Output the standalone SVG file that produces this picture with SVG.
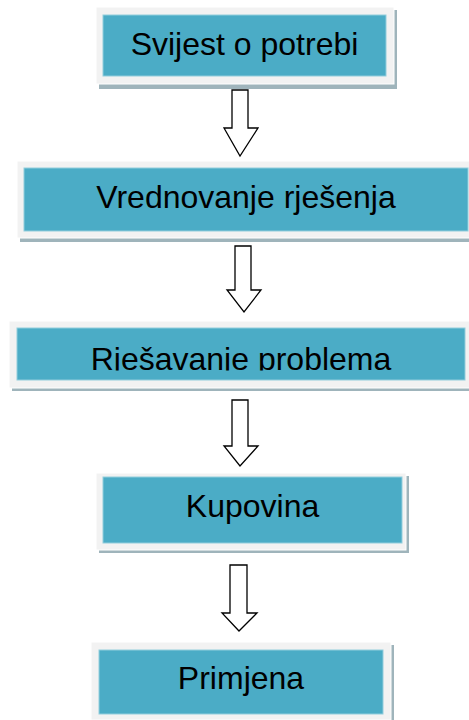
<svg xmlns="http://www.w3.org/2000/svg" width="469" height="720" viewBox="0 0 469 720">
<style>
.shadow{fill:#9fb4bb}
.frame{fill:#f2f2f2;stroke:#ffffff;stroke-width:1}
.box{fill:#4bacc6;stroke:#92cddc;stroke-width:1}
.lbl{font-family:"Liberation Sans",Arial,sans-serif;font-size:32px;fill:#000;text-anchor:middle}
.arr{fill:#ffffff;stroke:#000;stroke-width:1.3;stroke-linejoin:miter}
</style>
<defs>
<clipPath id="c3"><rect x="0" y="321" width="469" height="49.5"/></clipPath>
</defs>
<rect width="469" height="720" fill="#ffffff"/>
<g id="n1">
<rect class="shadow" x="99" y="10" width="298" height="79"/>
<rect class="frame" x="96" y="7" width="298" height="77"/>
<rect class="box" x="103" y="15" width="283" height="61"/>
<text class="lbl" x="244.5" y="55">Svijest o potrebi</text>
</g>
<g id="n2">
<rect class="shadow" x="20" y="164" width="460" height="78"/>
<rect class="frame" x="17" y="161" width="460" height="77"/>
<rect class="box" x="24" y="168" width="444" height="63"/>
<text class="lbl" x="246" y="208">Vrednovanje rješenja</text>
</g>
<g id="n3">
<rect class="shadow" x="12" y="324" width="470" height="67"/>
<rect class="frame" x="9" y="321" width="470" height="67"/>
<rect class="box" x="17" y="328" width="448" height="52"/>
<text class="lbl" x="241" y="370" clip-path="url(#c3)">Rješavanje problema</text>
</g>
<g id="n4">
<rect class="shadow" x="99" y="476" width="310" height="77"/>
<rect class="frame" x="96" y="473" width="310" height="77"/>
<rect class="box" x="103" y="477" width="299" height="66"/>
<text class="lbl" x="252.5" y="517">Kupovina</text>
</g>
<g id="n5">
<rect class="shadow" x="94" y="645" width="300" height="78"/>
<rect class="frame" x="91" y="642" width="300" height="78"/>
<rect class="box" x="99" y="650" width="284" height="64"/>
<text class="lbl" x="241" y="689">Primjena</text>
</g>
<g id="connectors">
<polygon class="arr" points="232,90 248,90 248,128 258,128 240,156 224,128 232,128"/>
<polygon class="arr" points="235,246 251,246 251,290 261,290 244,312 227,290 235,290"/>
<polygon class="arr" points="232,400 248,400 248,446 258,446 240,466 224,446 232,446"/>
<polygon class="arr" points="230,565 247,565 247,613 257,613 239,631 222,613 230,613"/>
</g>
</svg>
